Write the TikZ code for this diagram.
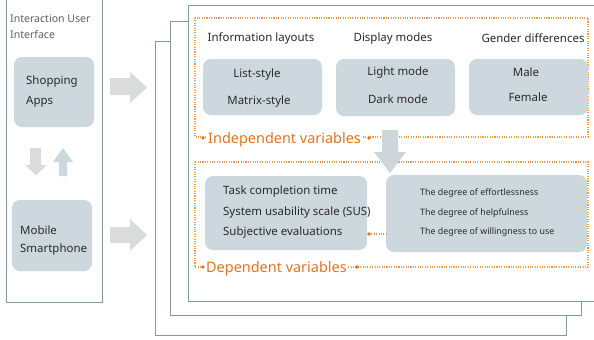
\documentclass[tikz,border=0pt]{standalone}
\usepackage{fontspec}
\setmainfont{Noto Sans}
\usetikzlibrary{positioning}
\definecolor{panelc}{HTML}{8198A6}
\definecolor{boxc}{HTML}{CDD7DE}
\definecolor{arrc}{HTML}{D9DBDC}
\definecolor{bigarr}{HTML}{CED6DC}
\definecolor{orgline}{HTML}{EE9C4A}
\definecolor{orgtext}{HTML}{DE7426}
\definecolor{txt}{HTML}{2A2A2A}
\tikzset{
  panel/.style={draw=panelc, line width=0.9pt, fill=white},
  graybox/.style={fill=boxc, rounded corners=8pt, inner sep=0pt},
  dotbox/.style={draw=orgline, line width=1.2pt, dash pattern=on 1.1pt off 1.3pt},
  blockarrow/.style={fill=arrc, draw=none},
  hdr/.style={text=txt, font=\fontsize{11.5}{13}\selectfont, inner sep=0pt},
  item/.style={text=txt, font=\fontsize{11.5}{13}\selectfont, inner sep=0pt},
  small/.style={text=txt, font=\fontsize{8.9}{10}\selectfont, inner sep=0pt, anchor=west},
  varlabel/.style={text=orgtext, font=\fontsize{14.5}{16}\selectfont, fill=white, inner sep=1pt},
  odot/.style={fill=orgtext, draw=none},
}
\begin{document}
\begin{tikzpicture}[x=1bp,y=-1bp]
\useasboundingbox (0,0) rectangle (594,339);
% left panel
\draw[panel] (6,-5) rectangle (102,302);
\node[text=txt!75, font=\fontsize{10.6}{12}\selectfont, anchor=west, inner sep=0pt] (t1) at (10,18.5) {Interaction User};
\node[text=txt!75, font=\fontsize{10.6}{12}\selectfont, anchor=west, inner sep=0pt] (t2) at (10,34.5) {Interface};
\node[graybox, minimum width=80bp, minimum height=70bp] (shop) at (54,92) {};
\node[item, anchor=west] (shop1) at (26,82) {Shopping};
\node[item, anchor=west] (shop2) at (26,102) {Apps};
\node[graybox, minimum width=80bp, minimum height=71bp] (mob) at (52,235.5) {};
\node[item, anchor=west] (mob1) at (20,230) {Mobile};
\node[item, anchor=west] (mob2) at (20,250) {Smartphone};
% small arrows
\fill[blockarrow] (30,148) -- (41,148) -- (41,165) -- (47,165) -- (36,175) -- (25,165) -- (30,165) -- cycle;
\fill[fill=boxc] (59,176) -- (67,176) -- (67,162) -- (73,162) -- (63,148) -- (53,162) -- (59,162) -- cycle;
\fill[blockarrow] (110,78) -- (130,78) -- (130,72) -- (147,87.5) -- (130,103) -- (130,95) -- (110,95) -- cycle;
\fill[blockarrow] (110,227) -- (130,227) -- (130,219) -- (147,235) -- (130,251) -- (130,243) -- (110,243) -- cycle;
% stacked panels
\draw[panel] (155,41) rectangle (566,335);
\draw[panel] (170,21) rectangle (581,315);
\draw[panel] (188,5) rectangle (605,301);
% upper dotted box
\draw[dotbox] (195,18) rectangle (588,137);
\node[hdr] (h1) at (261,38.5) {Information layouts};
\node[hdr] (h2) at (393,38.5) {Display modes};
\node[hdr] (h3) at (533,38.5) {Gender differences};
\node[graybox, minimum width=119bp, minimum height=56bp] (b1) at (262.5,87) {};
\node[graybox, minimum width=119bp, minimum height=57bp] (b2) at (395.5,87.5) {};
\node[graybox, minimum width=119bp, minimum height=56bp] (b3) at (528.5,87) {};
\node[item] (b1a) at (257,74.5) {List-style};
\node[item] (b1b) at (259,101.5) {Matrix-style};
\node[item] (b2a) at (398,72.5) {Light mode};
\node[item] (b2b) at (398,99.5) {Dark mode};
\node[item] (b3a) at (526,72.5) {Male};
\node[item] (b3b) at (528,97.5) {Female};
\node[varlabel, anchor=west] (iv) at (207,140) {Independent variables};
\fill[odot] (203,138) circle (1.9);
\fill[odot] (369,138) circle (1.9);
% lower dotted box
\draw[dotbox] (195,162) rectangle (588,267);
% big arrow
\fill[fill=bigarr] (382,130) -- (398,130) -- (398,152) -- (406,152) -- (390,173) -- (374,152) -- (382,152) -- cycle;
\node[graybox, minimum width=162bp, minimum height=74bp] (lb) at (286,213) {};
\node[graybox, minimum width=201bp, minimum height=77bp] (rb) at (486.5,213.5) {};
\node[item, anchor=west] (l1) at (223,191.5) {Task completion time};
\node[item, anchor=west] (l2) at (223,212.5) {System usability scale (SUS)};
\node[item, anchor=west] (l3) at (223,232.5) {Subjective evaluations};
\node[small] (r1) at (420,193) {The degree of effortlessness};
\node[small] (r2) at (420,213) {The degree of helpfulness};
\node[small] (r3) at (420,232) {The degree of willingness to use};
\coordinate (cd) at (369,234);
\draw[dotbox] (cd) -- (rb.west |- cd);
\fill[odot] (cd) circle (1.9);
\node[varlabel, anchor=west] (dv) at (205,269) {Dependent variables};
\fill[odot] (203,267) circle (1.9);
\fill[odot] (357,267) circle (1.9);
\end{tikzpicture}
\end{document}
